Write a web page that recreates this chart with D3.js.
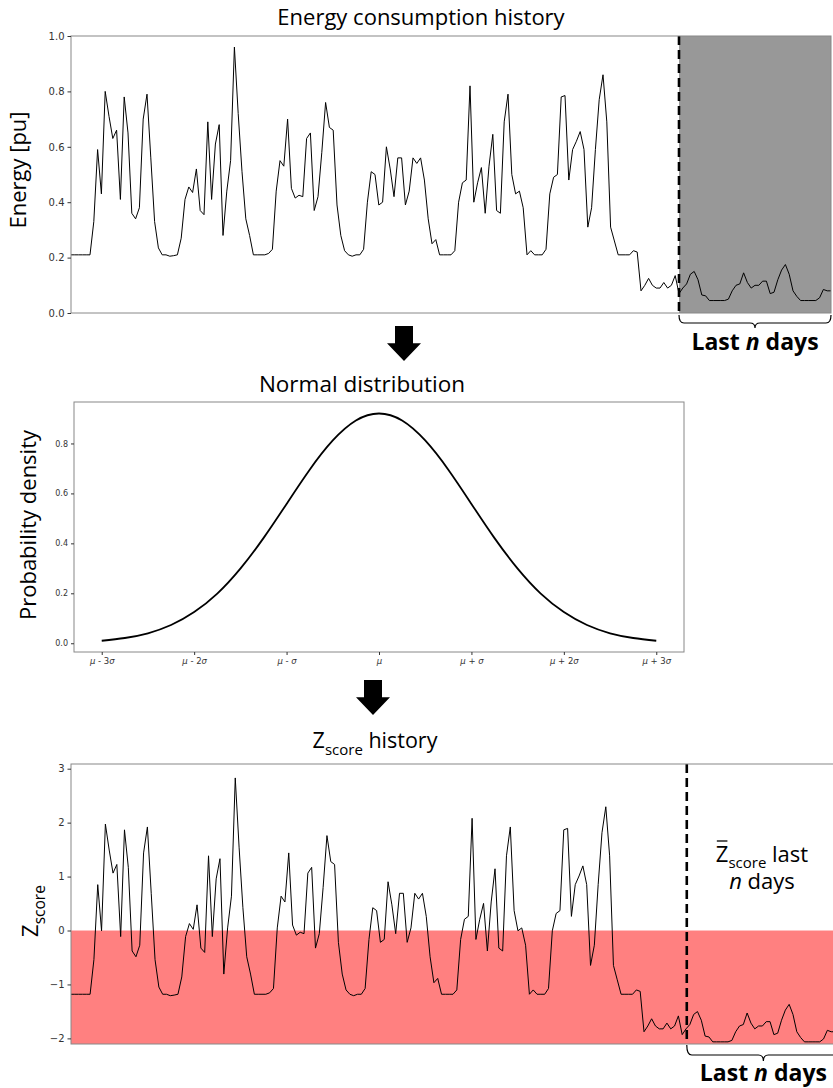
<!DOCTYPE html>
<html>
<head>
<meta charset="utf-8">
<script src="https://cdn.jsdelivr.net/npm/d3@7"></script>
<style>
    body { margin: 0; background: #fff; }
    svg { display: block; }
    text { font-family: "Open Sans", sans-serif; fill: #000; }
    .tick text { font-family: "DejaVu Sans", sans-serif; fill: #333; }
</style>
</head>
<body>
<div id="app"></div>
<script>
// daily energy readings [pu]
const energy = [
    0.21, 0.21, 0.21, 0.21, 0.21, 0.21, 0.33, 0.59, 0.43, 0.80,
    0.71, 0.63, 0.66, 0.41, 0.78, 0.65, 0.36, 0.34, 0.38, 0.70,
    0.79, 0.56, 0.33, 0.235, 0.21, 0.21, 0.205, 0.207, 0.21, 0.27,
    0.41, 0.455, 0.435, 0.52, 0.37, 0.355, 0.69, 0.41, 0.61, 0.68,
    0.28, 0.44, 0.55, 0.96, 0.72, 0.51, 0.34, 0.28, 0.21, 0.21,
    0.21, 0.21, 0.215, 0.23, 0.44, 0.55, 0.53, 0.70, 0.45, 0.415,
    0.425, 0.42, 0.63, 0.65, 0.37, 0.42, 0.58, 0.76, 0.67, 0.66,
    0.39, 0.28, 0.225, 0.21, 0.205, 0.21, 0.21, 0.23, 0.40, 0.51,
    0.50, 0.39, 0.40, 0.60, 0.52, 0.42, 0.56, 0.56, 0.39, 0.44,
    0.56, 0.54, 0.56, 0.48, 0.34, 0.25, 0.265, 0.21, 0.21, 0.21,
    0.21, 0.225, 0.40, 0.47, 0.48, 0.82, 0.40, 0.47, 0.525, 0.36,
    0.53, 0.645, 0.37, 0.36, 0.69, 0.79, 0.50, 0.43, 0.44, 0.38,
    0.21, 0.225, 0.21, 0.21, 0.21, 0.23, 0.43, 0.49, 0.50, 0.78,
    0.785, 0.48, 0.59, 0.62, 0.655, 0.59, 0.31, 0.38, 0.59, 0.77,
    0.86, 0.69, 0.31, 0.26, 0.21, 0.21, 0.21, 0.21, 0.225, 0.22,
    0.08, 0.10, 0.125, 0.10, 0.09, 0.09, 0.11, 0.09, 0.10, 0.135,
    0.07, 0.09, 0.105, 0.14, 0.15, 0.12, 0.065, 0.062, 0.045, 0.045,
    0.045, 0.045, 0.045, 0.05, 0.08, 0.10, 0.105, 0.145, 0.11, 0.09,
    0.10, 0.10, 0.115, 0.115, 0.07, 0.075, 0.12, 0.155, 0.175, 0.14,
    0.08, 0.06, 0.045, 0.045, 0.045, 0.045, 0.045, 0.055, 0.085, 0.08,
    0.08
];

const histMean = 0.431;
const histStd = 0.187;

const splitDay = 160;      // start of "last n days" in the top panel
const zSplitDay = 161.2;   // same marker as drawn in the bottom panel

const energyTicks = [0, 0.2, 0.4, 0.6, 0.8, 1.0];

// normal curve, density read at quarter-sigma steps
const sigmaSteps = [-3, -2.75, -2.5, -2.25, -2, -1.75, -1.5, -1.25, -1, -0.75, -0.5, -0.25, 0,
    0.25, 0.5, 0.75, 1, 1.25, 1.5, 1.75, 2, 2.25, 2.5, 2.75, 3];
const density = [0.010, 0.021, 0.040, 0.073, 0.125, 0.199, 0.299, 0.421, 0.558, 0.695, 0.812, 0.892, 0.920,
    0.892, 0.812, 0.695, 0.558, 0.421, 0.299, 0.199, 0.125, 0.073, 0.040, 0.021, 0.010];
const densityTicks = [0, 0.2, 0.4, 0.6, 0.8];
const sigmaTicks = [-3, -2, -1, 0, 1, 2, 3];
const sigmaTickLabels = ["μ - 3σ", "μ - 2σ", "μ - σ", "μ", "μ + σ", "μ + 2σ", "μ + 3σ"];

const zTicks = [-2, -1, 0, 1, 2, 3];

const W = 833;
const H = 1088;

const svg = d3.select("#app")
    .append("svg")
    .attr("width", W)
    .attr("height", H);

function styleAxis(g, size) {
    g.select(".domain").remove();
    g.selectAll(".tick line").attr("stroke", "#333");
    g.selectAll(".tick text").attr("font-size", size);
}

function frame(x0, y0, x1, y1) {
    svg.append("rect")
        .attr("x", x0)
        .attr("y", y0)
        .attr("width", x1 - x0)
        .attr("height", y1 - y0)
        .attr("fill", "none")
        .attr("stroke", "#888")
        .attr("stroke-width", 1);
}

function brace(x0, x1, yTop, yLine, yTip) {
    const xm = (x0 + x1) / 2;
    const r = 5;
    const p = "M" + x0 + "," + yTop +
        " Q" + x0 + "," + yLine + " " + (x0 + r) + "," + yLine +
        " L" + (xm - r) + "," + yLine +
        " Q" + xm + "," + yLine + " " + xm + "," + yTip +
        " Q" + xm + "," + yLine + " " + (xm + r) + "," + yLine +
        " L" + (x1 - r) + "," + yLine +
        " Q" + x1 + "," + yLine + " " + x1 + "," + yTop;
    svg.append("path")
        .attr("d", p)
        .attr("fill", "none")
        .attr("stroke", "#000")
        .attr("stroke-width", 1.2);
}

function lastDaysLabel(x, y) {
    const t = svg.append("text")
        .attr("x", x)
        .attr("y", y)
        .attr("text-anchor", "middle")
        .attr("font-size", 23)
        .attr("font-weight", 700);
    t.append("tspan").text("Last ");
    t.append("tspan").attr("font-style", "italic").text("n");
    t.append("tspan").text(" days");
}

function downArrow(cx, y0, tip) {
    const shaftBottom = y0 + (tip - y0) * 0.49;
    const p = [
        [cx - 9, y0], [cx + 9, y0], [cx + 9, shaftBottom], [cx + 17, shaftBottom],
        [cx, tip], [cx - 17, shaftBottom], [cx - 9, shaftBottom]
    ];
    svg.append("path")
        .attr("d", d3.line()(p) + "Z")
        .attr("fill", "#000");
}

//TOP PANEL - energy history
const topBox = { left: 71, right: 831, top: 36, bottom: 313 };
const xTop = d3.scaleLinear().domain([0, energy.length - 1]).range([topBox.left, topBox.right]);
const yTop = d3.scaleLinear().domain([0, 1]).range([topBox.bottom, topBox.top]);

svg.append("rect")
    .attr("x", xTop(splitDay))
    .attr("y", topBox.top)
    .attr("width", xTop(energy.length - 1) - xTop(splitDay))
    .attr("height", topBox.bottom - topBox.top)
    .attr("fill", "#989898");

svg.append("path")
    .datum(energy)
    .attr("d", d3.line().x((d, i) => xTop(i)).y(d => yTop(d)))
    .attr("fill", "none")
    .attr("stroke", "#000")
    .attr("stroke-width", 1);

svg.append("line")
    .attr("x1", xTop(splitDay))
    .attr("x2", xTop(splitDay))
    .attr("y1", topBox.top)
    .attr("y2", topBox.bottom)
    .attr("stroke", "#000")
    .attr("stroke-width", 2.6)
    .attr("stroke-dasharray", "9,5");

frame(topBox.left, topBox.top, topBox.right, topBox.bottom);

svg.append("g")
    .attr("transform", "translate(" + topBox.left + ",0)")
    .call(d3.axisLeft(yTop).tickValues(energyTicks).tickFormat(d3.format(".1f")).tickSize(3.5).tickPadding(3))
    .call(g => styleAxis(g, 10));

svg.append("text")
    .attr("x", 421)
    .attr("y", 25)
    .attr("text-anchor", "middle")
    .attr("font-size", 22)
    .text("Energy consumption history");

svg.append("text")
    .attr("transform", "translate(26,170) rotate(-90)")
    .attr("text-anchor", "middle")
    .attr("font-size", 22)
    .text("Energy [pu]");

brace(xTop(splitDay), topBox.right, 315, 323, 328);
lastDaysLabel((xTop(splitDay) + topBox.right) / 2, 350);

downArrow(404, 326, 361);

//MIDDLE PANEL - normal distribution
const midBox = { left: 74, right: 684, top: 402, bottom: 652 };
const xMid = d3.scaleLinear().domain([-3.3, 3.3]).range([midBox.left, midBox.right]);
const yMid = d3.scaleLinear().domain([-0.035, 0.966]).range([midBox.bottom, midBox.top]);

svg.append("path")
    .datum(sigmaSteps)
    .attr("d", d3.line().curve(d3.curveNatural).x(d => xMid(d)).y((d, i) => yMid(density[i])))
    .attr("fill", "none")
    .attr("stroke", "#000")
    .attr("stroke-width", 1.8);

frame(midBox.left, midBox.top, midBox.right, midBox.bottom);

svg.append("g")
    .attr("transform", "translate(" + midBox.left + ",0)")
    .call(d3.axisLeft(yMid).tickValues(densityTicks).tickFormat(d3.format(".1f")).tickSize(3).tickPadding(3))
    .call(g => styleAxis(g, 8));

svg.append("g")
    .attr("transform", "translate(0," + midBox.bottom + ")")
    .call(d3.axisBottom(xMid).tickValues(sigmaTicks).tickFormat("").tickSize(3).tickPadding(3))
    .call(g => styleAxis(g, 8.5))
    .call(g => g.selectAll(".tick text").each(function (d, i) {
        const t = d3.select(this);
        const parts = sigmaTickLabels[i].split(/([μσ])/).filter(s => s.length);
        parts.forEach(function (s) {
            t.append("tspan")
                .attr("font-style", (s === "μ" || s === "σ") ? "italic" : "normal")
                .text(s);
        });
    }));

svg.append("text")
    .attr("x", 362)
    .attr("y", 392)
    .attr("text-anchor", "middle")
    .attr("font-size", 22.5)
    .text("Normal distribution");

svg.append("text")
    .attr("transform", "translate(36,525) rotate(-90)")
    .attr("text-anchor", "middle")
    .attr("font-size", 22)
    .text("Probability density");

downArrow(373, 680, 715);

//BOTTOM PANEL - z-score history
const zScore = energy.map(e => (e - histMean) / histStd);
const botBox = { left: 71, right: 840, top: 764, bottom: 1044 };
const xBot = d3.scaleLinear().domain([0, energy.length - 1]).range([botBox.left, 835]);
const yBot = d3.scaleLinear().domain([-2.104, 3.087]).range([botBox.bottom, botBox.top]);

svg.append("rect")
    .attr("x", botBox.left)
    .attr("y", yBot(0))
    .attr("width", botBox.right - botBox.left)
    .attr("height", botBox.bottom - yBot(0))
    .attr("fill", "#ff8080");

svg.append("path")
    .datum(zScore)
    .attr("d", d3.line().x((d, i) => xBot(i)).y(d => yBot(d)))
    .attr("fill", "none")
    .attr("stroke", "#000")
    .attr("stroke-width", 1);

svg.append("line")
    .attr("x1", xBot(zSplitDay))
    .attr("x2", xBot(zSplitDay))
    .attr("y1", botBox.top)
    .attr("y2", botBox.bottom)
    .attr("stroke", "#000")
    .attr("stroke-width", 2.6)
    .attr("stroke-dasharray", "9,5");

frame(botBox.left, botBox.top, botBox.right, botBox.bottom);

svg.append("g")
    .attr("transform", "translate(" + botBox.left + ",0)")
    .call(d3.axisLeft(yBot).tickValues(zTicks).tickFormat(d3.format("d")).tickSize(3.5).tickPadding(3))
    .call(g => styleAxis(g, 10));

const zTitle = svg.append("text")
    .attr("x", 375)
    .attr("y", 748)
    .attr("text-anchor", "middle")
    .attr("font-size", 21.5);
zTitle.append("tspan").text("Z");
zTitle.append("tspan").attr("font-size", 15).attr("dy", 7).text("score");
zTitle.append("tspan").attr("dy", -7).text(" history");

const zLabel = svg.append("text")
    .attr("transform", "translate(38,911) rotate(-90)")
    .attr("text-anchor", "middle")
    .attr("font-size", 22);
zLabel.append("tspan").text("Z");
zLabel.append("tspan").attr("font-size", 15.5).attr("dy", 7).text("score");

// mean z-score annotation, two lines in one text element
const note = svg.append("text")
    .attr("y", 862)
    .attr("text-anchor", "middle")
    .attr("font-size", 22);
note.append("tspan").attr("x", 762).text("Z");
note.append("tspan").attr("font-size", 15).attr("dy", 6).text("score");
note.append("tspan").attr("dy", -6).text(" last");
note.append("tspan").attr("x", 762).attr("dy", 27).attr("font-style", "italic").text("n");
note.append("tspan").text(" days");
const zBox = note.node().getExtentOfChar(0);
svg.append("line")
    .attr("x1", zBox.x + 1)
    .attr("x2", zBox.x + zBox.width - 1)
    .attr("y1", zBox.y + 3)
    .attr("y2", zBox.y + 3)
    .attr("stroke", "#000")
    .attr("stroke-width", 1.3);

brace(xBot(zSplitDay), botBox.right, 1045, 1055, 1061);
lastDaysLabel((xBot(zSplitDay) + botBox.right) / 2, 1081);
</script>
